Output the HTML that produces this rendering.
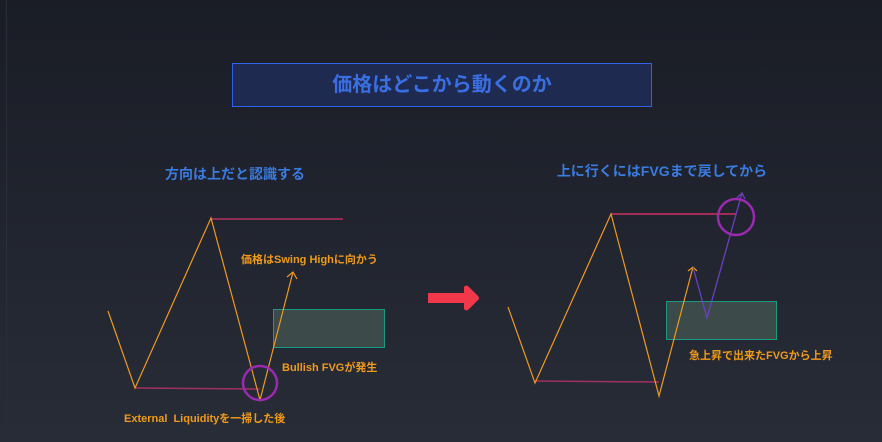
<!DOCTYPE html>
<html><head><meta charset="utf-8"><style>
html,body{margin:0;padding:0;}
body{width:882px;height:442px;overflow:hidden;background:linear-gradient(#1a1d26,#282c37);position:relative;font-family:"Liberation Sans","Noto Sans CJK JP",sans-serif;}
.t{position:absolute;white-space:nowrap;font-weight:bold;}
.o{color:#f09a1a;font-size:11px;}
.b{color:#3b7be0;font-size:14px;}
</style></head><body>
<div style="position:absolute;left:6px;top:0;width:1px;height:442px;background:#2a2e3a"></div>
<div style="position:absolute;left:232px;top:63px;width:418px;height:42px;background:#1f2a50;border:1px solid #2f62e6"></div>
<div class="t" style="left:232px;top:63px;width:420px;height:44px;line-height:44px;text-align:center;font-size:20px;color:#3a6fe3">価格はどこから動くのか</div>
<div class="t b" style="left:135px;top:164px;width:200px;text-align:center">方向は上だと認識する</div>
<div class="t b" style="left:542px;top:161px;width:240px;text-align:center">上に行くにはFVGまで戻してから</div>
<div class="t o" style="left:241px;top:251px">価格はSwing Highに向かう</div>
<div class="t o" style="left:282px;top:359px">Bullish FVGが発生</div>
<div class="t o" style="left:124px;top:410px;word-spacing:3px">External Liquidityを一掃した後</div>
<div class="t o" style="left:689px;top:347px">急上昇で出来たFVGから上昇</div>
<svg width="882" height="442" style="position:absolute;left:0;top:0">
<rect x="273.5" y="309.5" width="111" height="38" fill="#3d4a4a" stroke="#1a9a80"/>
<rect x="666.5" y="301.5" width="110" height="38" fill="#3d4a4a" stroke="#1a9a80"/>
<line x1="211" y1="219" x2="343" y2="219" stroke="#d0306a" stroke-width="1.2"/>
<line x1="135" y1="388" x2="260" y2="389" stroke="#a03060" stroke-width="1.5"/>
<line x1="611" y1="214" x2="736" y2="214" stroke="#f0306a" stroke-width="1.2"/>
<line x1="535" y1="381" x2="659" y2="382" stroke="#a03060" stroke-width="1.5"/>
<polyline points="108,311 135,388 211,218 260,400 293,272" fill="none" stroke="#f09a1a" stroke-width="1.2"/>
<polyline points="287,277 293,272 297,279" fill="none" stroke="#f09a1a" stroke-width="1.2"/>
<polyline points="508,307 535,383 611,214 659,396 693,267" fill="none" stroke="#f09a1a" stroke-width="1.2"/>
<polyline points="688,271 693,267 697,271" fill="none" stroke="#f09a1a" stroke-width="1.2"/>
<polyline points="693,267 707,318 742,193" fill="none" stroke="#6a40c0" stroke-width="1.3"/>
<polyline points="737,198 742,193 745,199" fill="none" stroke="#6a40c0" stroke-width="1.3"/>
<circle cx="260" cy="383" r="17" fill="none" stroke="#9a2ab0" stroke-width="2.5"/>
<circle cx="736" cy="217" r="18" fill="none" stroke="#9a2ab0" stroke-width="2.5"/>
<path d="M428,293 H464 V287 Q466,284 469,287 L478,296 Q480,298 478,300 L469,309 Q466,312 464,309 V303 H428 Z" fill="#f0384a"/>
</svg>
</body></html>
